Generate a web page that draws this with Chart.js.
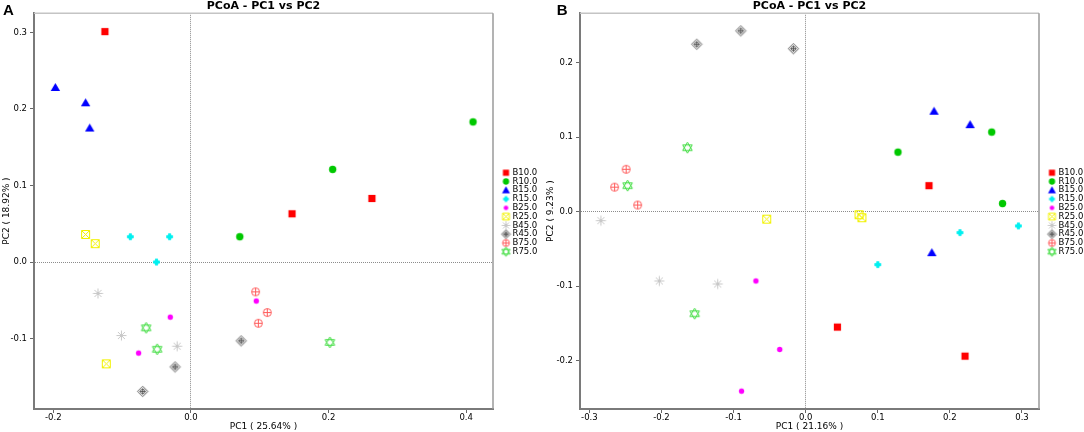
<!DOCTYPE html>
<html>
<head>
<meta charset="utf-8">
<script src="https://cdn.jsdelivr.net/npm/chart.js@4.4.1/dist/chart.umd.min.js"></script>
<style>
  html, body { margin: 0; padding: 0; background: #fff; }
  #wrap { position: relative; width: 1084px; height: 432px; overflow: hidden; }
  #wrap canvas { position: absolute; top: 0; }
</style>
</head>
<body>
<div id="wrap">
  <canvas id="chartA" width="542" height="432" style="left:0"></canvas>
  <canvas id="chartB" width="542" height="432" style="left:542px"></canvas>
</div>
<script>
const groups = ['B10.0', 'R10.0', 'B15.0', 'R15.0', 'B25.0', 'R25.0', 'B45.0', 'R45.0', 'B75.0', 'R75.0'];

// panel A : PC1 25.64%, PC2 18.92%   [PC1, PC2]
const a_B10 = [[-0.125, 0.301], [0.147, 0.063], [0.263, 0.083]];
const a_R10 = [[0.071, 0.033], [0.206, 0.121], [0.410, 0.183]];
const a_B15 = [[-0.197, 0.228], [-0.153, 0.208], [-0.147, 0.175]];
const a_R15 = [[-0.088, 0.033], [-0.031, 0.033], [-0.050, 0.000]];
const a_B25 = [[-0.030, -0.072], [-0.076, -0.119], [0.095, -0.051]];
const a_R25 = [[-0.153, 0.036], [-0.139, 0.024], [-0.123, -0.133]];
const a_B45 = [[-0.135, -0.041], [-0.101, -0.096], [-0.020, -0.110]];
const a_R45 = [[-0.023, -0.137], [-0.070, -0.169], [0.073, -0.103]];
const a_B75 = [[0.094, -0.039], [0.111, -0.066], [0.098, -0.080]];
const a_R75 = [[-0.065, -0.086], [-0.049, -0.114], [0.202, -0.105]];

// panel B : PC1 21.16%, PC2 9.23%
const b_B10 = [[0.171, 0.035], [0.044, -0.155], [0.221, -0.194]];
const b_R10 = [[0.258, 0.107], [0.128, 0.080], [0.273, 0.011]];
const b_B15 = [[0.178, 0.135], [0.228, 0.117], [0.175, -0.055]];
const b_R15 = [[0.100, -0.071], [0.214, -0.028], [0.295, -0.019]];
const b_B25 = [[-0.069, -0.093], [-0.036, -0.185], [-0.089, -0.241]];
const b_R25 = [[-0.054, -0.010], [0.074, -0.004], [0.078, -0.008]];
const b_B45 = [[-0.284, -0.012], [-0.203, -0.093], [-0.122, -0.097]];
const b_R45 = [[-0.151, 0.225], [-0.090, 0.243], [-0.017, 0.219]];
const b_B75 = [[-0.249, 0.057], [-0.265, 0.033], [-0.233, 0.009]];
const b_R75 = [[-0.164, 0.086], [-0.247, 0.035], [-0.154, -0.137]];

const panelA = [a_B10, a_R10, a_B15, a_R15, a_B25, a_R25, a_B45, a_R45, a_B75, a_R75];
const panelB = [b_B10, b_R10, b_B15, b_R15, b_B25, b_R25, b_B45, b_R45, b_B75, b_R75];

const colors = ['#ff0000', '#00c800', '#0000ff', '#00f0f0', '#ff00ff', '#f2f200', '#c8c8c8', '#505050', '#ff5c5c', '#3cdc3c'];
const shapes = ['square', 'circle', 'triangle', 'plus', 'dot', 'boxX', 'asterisk', 'diamondPlus', 'circlePlus', 'hexagram'];

Chart.defaults.font.family = '"DejaVu Sans", sans-serif';
Chart.defaults.color = '#000';

// little canvas glyphs used as pointStyle
function marker(shape, color, k) {
    const s = 15;
    const c = document.createElement('canvas');
    c.width = s; c.height = s;
    const g = c.getContext('2d');
    const m = s / 2;
    g.fillStyle = color;
    g.strokeStyle = color;
    g.lineWidth = 1;
    g.beginPath();
    const line = (x1, y1, x2, y2) => { g.moveTo(m + x1, m + y1); g.lineTo(m + x2, m + y2); };
    switch (shape) {
        case 'square':
            g.fillRect(m - 3.6 * k, m - 3.6 * k, 7.2 * k, 7.2 * k);
            break;
        case 'circle':
            g.arc(m, m, 3.7 * k, 0, Math.PI * 2); g.fill();
            break;
        case 'triangle':
            g.moveTo(m, m - 4.6 * k); g.lineTo(m + 4.7 * k, m + 3.6 * k); g.lineTo(m - 4.7 * k, m + 3.6 * k);
            g.closePath(); g.fill();
            break;
        case 'plus':
            g.fillRect(m - 1.4 * k, m - 3.4 * k, 2.8 * k, 6.8 * k);
            g.fillRect(m - 3.4 * k, m - 1.4 * k, 6.8 * k, 2.8 * k);
            g.arc(m, m, 2.5 * k, 0, Math.PI * 2); g.fill();
            break;
        case 'dot':
            g.arc(m, m, 2.7 * k, 0, Math.PI * 2); g.fill();
            break;
        case 'boxX':
            g.rect(m - 4 * k, m - 4 * k, 8 * k, 8 * k);
            line(-4 * k, -4 * k, 4 * k, 4 * k); line(-4 * k, 4 * k, 4 * k, -4 * k);
            g.stroke();
            break;
        case 'asterisk':
            for (let a = 0; a < 4; a++) {
                const t = a * Math.PI / 4, r = 5 * k;
                line(-r * Math.cos(t), -r * Math.sin(t), r * Math.cos(t), r * Math.sin(t));
            }
            g.stroke();
            break;
        case 'diamondPlus':
            g.lineWidth = 0.9;
            g.moveTo(m, m - 5.2 * k); g.lineTo(m + 5.2 * k, m); g.lineTo(m, m + 5.2 * k); g.lineTo(m - 5.2 * k, m); g.closePath();
            line(0, -3.2 * k, 0, 3.2 * k); line(-3.2 * k, 0, 3.2 * k, 0);
            g.stroke();
            g.beginPath(); g.arc(m, m, 2.2 * k, 0, Math.PI * 2); g.stroke();
            break;
        case 'circlePlus':
            g.arc(m, m, 4 * k, 0, Math.PI * 2);
            line(0, -4 * k, 0, 4 * k); line(-4 * k, 0, 4 * k, 0);
            g.stroke();
            break;
        case 'hexagram':
            for (const off of [-90, 90]) {
                for (let i = 0; i < 3; i++) {
                    const t = (off + i * 120) * Math.PI / 180;
                    const px = m + 5.5 * k * Math.cos(t), py = m + 5.5 * k * Math.sin(t);
                    if (i === 0) g.moveTo(px, py); else g.lineTo(px, py);
                }
                g.closePath();
            }
            g.stroke();
            break;
    }
    return c;
}

const plotMarks = shapes.map((s, i) => marker(s, colors[i], 1));
const legendMarks = shapes.map((s, i) => marker(s, colors[i], 0.85));

// legend, frame and panel letter
const decorPlugin = {
    id: 'decor',
    afterDraw(chart, args, opts) {
        const {ctx, chartArea: ca} = chart;
        ctx.save();
        ctx.lineWidth = 1.5;
        ctx.strokeStyle = '#c4c4c4';
        ctx.beginPath(); ctx.moveTo(ca.left, ca.top); ctx.lineTo(ca.right, ca.top); ctx.stroke();
        ctx.strokeStyle = '#9a9a9a';
        ctx.beginPath(); ctx.moveTo(ca.right, ca.top); ctx.lineTo(ca.right, ca.bottom); ctx.stroke();

        ctx.font = '8.5px "DejaVu Sans"';
        ctx.fillStyle = '#000';
        ctx.textBaseline = 'middle';
        chart.data.datasets.forEach((ds, i) => {
            const y = 172.7 + i * 8.78;
            const img = legendMarks[i];
            ctx.drawImage(img, ca.right + 13 - img.width / 2, y - img.height / 2);
            ctx.fillText(ds.label, ca.right + 19.5, y);
        });

        ctx.font = 'bold 15px "Liberation Sans"';
        ctx.textBaseline = 'alphabetic';
        ctx.fillText(opts.letter, opts.letterX, 15);
        ctx.restore();
    }
};

function axes(xr, yr, xTitle, yTitle, yWidth, yPad) {
    const fmt = v => (Math.abs(v) < 1e-9 ? 0 : v).toFixed(1);
    const zero = c => (c.tick && Math.abs(c.tick.value) < 1e-9) ? '#8c8c8c' : 'rgba(0,0,0,0)';
    return {
        x: {
            type: 'linear', position: 'bottom', min: xr[0], max: xr[1],
            ticks: {stepSize: xr[2], includeBounds: false, callback: fmt, font: {size: 8.5}, padding: 0, maxRotation: 0},
            grid: {color: zero, tickLength: 4, tickColor: '#666'},
            border: {color: '#7a7a7a', width: 2, dash: [1, 1]},
            title: {display: true, text: xTitle, font: {size: 9}, padding: {top: 0, bottom: 0}},
            afterFit: s => { s.height = 23; }
        },
        y: {
            type: 'linear', position: 'left', min: yr[0], max: yr[1],
            ticks: {stepSize: yr[2], includeBounds: false, callback: fmt, font: {size: 8.5}, padding: 3},
            grid: {color: zero, tickLength: 4, tickColor: '#666'},
            border: {color: '#7a7a7a', width: 2, dash: [1, 1]},
            title: {display: true, text: yTitle, font: {size: 9}, padding: {top: yPad, bottom: 0}},
            afterFit: s => { s.width = yWidth; }
        }
    };
}

function makeChart(id, panel, xr, yr, xTitle, yTitle, yWidth, yPad, padRight, letter, letterX) {
    const datasets = panel.map((pts, i) => ({
        label: groups[i],
        data: pts.map(([x, y]) => ({x, y})),
        pointStyle: plotMarks[i],
        pointRadius: 5,
        backgroundColor: colors[i],
        borderColor: colors[i]
    }));
    return new Chart(document.getElementById(id), {
        type: 'scatter',
        data: {datasets},
        options: {
            responsive: false,
            animation: false,
            layout: {padding: {left: 0, right: padRight, top: 0, bottom: 0}},
            scales: axes(xr, yr, xTitle, yTitle, yWidth, yPad),
            plugins: {
                legend: {display: false},
                tooltip: {enabled: false},
                title: {
                    display: true, text: 'PCoA - PC1 vs PC2', fullSize: false,
                    font: {size: 11, weight: 'bold', lineHeight: 1.2}, padding: 0
                },
                decor: {letter, letterX}
            }
        },
        plugins: [decorPlugin]
    });
}

makeChart('chartA', panelA, [-0.228, 0.439, 0.2], [-0.192, 0.325, 0.1],
    'PC1 ( 25.64% )', 'PC2 ( 18.92% )', 34, 1.1, 49, 'A', 3);
makeChart('chartB', panelB, [-0.313, 0.3236, 0.1], [-0.265, 0.2667, 0.1],
    'PC1 ( 21.16% )', 'PC2 ( 9.23% )', 38, 3.6, 45, 'B', 14.7);
</script>
</body>
</html>
